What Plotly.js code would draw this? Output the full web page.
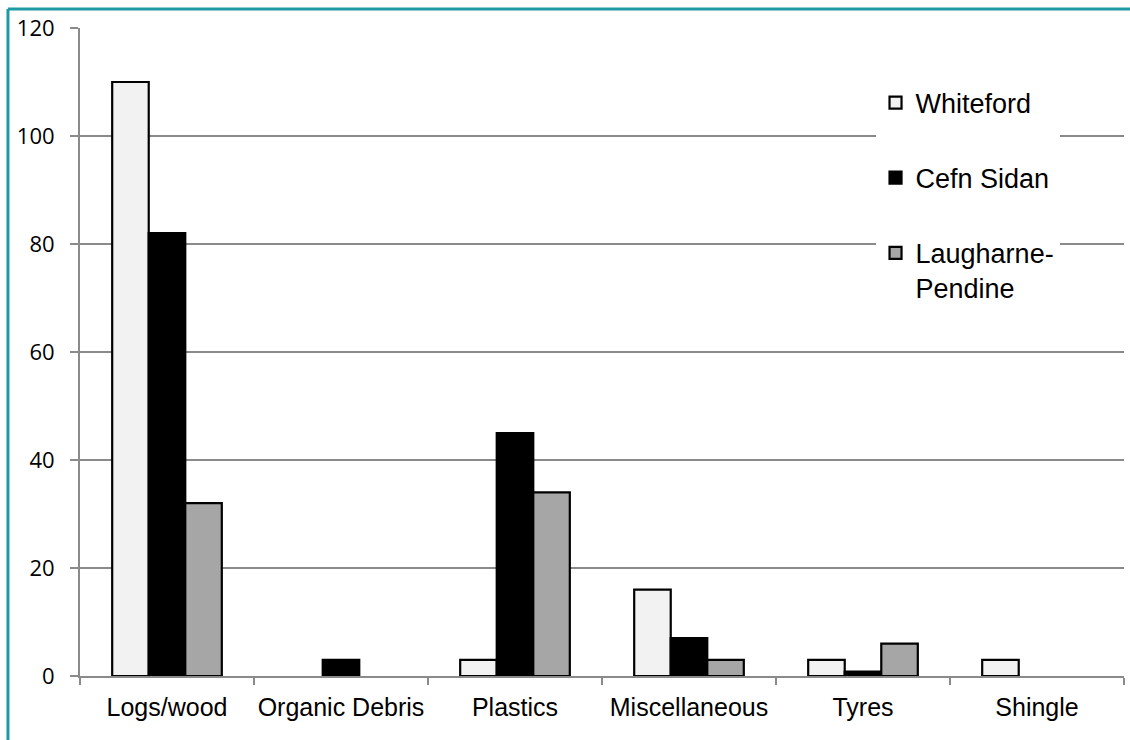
<!DOCTYPE html>
<html>
<head>
<meta charset="utf-8">
<script src="https://cdn.plot.ly/plotly-3.0.1.min.js"></script>
<style>html,body{margin:0;padding:0;background:#fff;}#chart{width:1130px;height:740px;}</style>
</head>
<body>
<div id="chart"></div>
<script>
var categories = ["Logs/wood", "Organic Debris", "Plastics", "Miscellaneous", "Tyres", "Shingle"];
var seriesNames = ["Whiteford", "Cefn Sidan", "Laugharne-<br>Pendine"];
var whiteford = [110, 0, 3, 16, 3, 3];
var cefnSidan = [82, 3, 45, 7, 0.8, 0];
var laugharnePendine = [32, 0, 34, 3, 6, 0];
var yTicks = [0, 20, 40, 60, 80, 100, 120];

var colors = ["#f2f2f2", "#000000", "#a6a6a6"];
var seriesValues = [whiteford, cefnSidan, laugharnePendine];
var sansFont = "'Liberation Sans', Arial, sans-serif";

var traces = seriesValues.map(function(vals, i){
  return {
    type: "bar",
    name: seriesNames[i],
    x: categories,
    y: vals,
    legendgroup: "g" + i,
    marker: {
      color: colors[i],
      line: {color: "#000000", width: vals.map(function(v){ return v === 0 ? 0 : 2.2; })}
    },
    hoverinfo: "x+y+name"
  };
});

var grid = "#8a8a8a";
var teal = "#1f9aa5";
var layout = {
  width: 1130, height: 740,
  margin: {l: 80, r: 6, t: 28, b: 64, pad: 0},
  paper_bgcolor: "#ffffff",
  plot_bgcolor: "#ffffff",
  barmode: "group",
  bargap: 0.37,
  bargroupgap: 0,
  showlegend: true,
  legend: {
    x: 0.762, xanchor: "left",
    y: 0.922, yanchor: "top",
    bgcolor: "#ffffff",
    borderwidth: 0,
    font: {family: sansFont, size: 27, color: "#000000"},
    traceorder: "grouped",
    tracegroupgap: 37,
    valign: "top",
    itemwidth: 30
  },
  xaxis: {
    type: "category",
    showline: true, linecolor: grid, linewidth: 2,
    ticks: "outside", tickson: "boundaries", ticklen: 7, tickwidth: 2, tickcolor: grid,
    showgrid: false,
    tickangle: 0,
    automargin: false,
    ticklabelstandoff: 8,
    tickfont: {family: sansFont, size: 25, color: "#000000"}
  },
  yaxis: {
    range: [0, 120],
    tickvals: yTicks,
    ticktext: yTicks.map(String),
    showline: true, linecolor: grid, linewidth: 2,
    ticks: "outside", ticklen: 8, tickwidth: 2, tickcolor: grid,
    showgrid: true, gridcolor: grid, gridwidth: 2,
    zeroline: false,
    ticklabelstandoff: 11,
    tickfont: {family: "'Open Sans', sans-serif", size: 22, color: "#000000"}
  },
  shapes: [
    {type: "line", xref: "paper", yref: "paper", x0: -0.0690, x1: -0.0690, y0: -0.2, y1: 1.0293, line: {color: teal, width: 3}},
    {type: "line", xref: "paper", yref: "paper", x0: -0.0690, x1: 1.1, y0: 1.0293, y1: 1.0293, line: {color: teal, width: 3}}
  ]
};

Plotly.newPlot("chart", traces, layout, {displayModeBar: false, staticPlot: true});
</script>
</body>
</html>
